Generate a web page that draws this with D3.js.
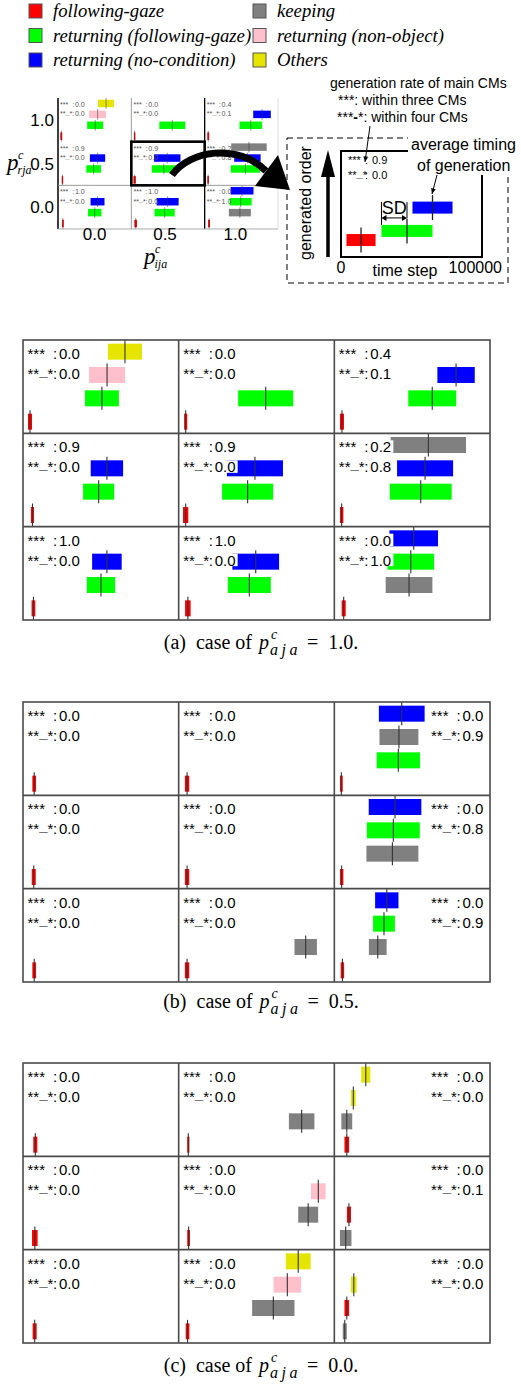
<!DOCTYPE html>
<html>
<head>
<meta charset="utf-8">
<script src="https://cdn.jsdelivr.net/npm/d3@7"></script>
<style>
  body { margin: 0; background: #fff; }
  svg { display: block; }
</style>
</head>
<body>
<svg id="fig" width="521" height="1384"></svg>
<script>
// ---- data ----
const catKeys = ['fg', 'rfg', 'rnc', 'keep', 'rno', 'oth'];
const catLabels = ['following-gaze', 'returning (following-gaze)', 'returning (no-condition)',
                   'keeping', 'returning (non-object)', 'Others'];
const rowLabels = ['1.0', '0.5', '0.0'];   // p_rja, top to bottom
const colLabels = ['0.0', '0.5', '1.0'];   // p_ija, left to right
const orderLevels = [4, 3, 2, 1];

// bars: [row, col, category, generated order, mean time step, SD]
const barsA = [
  [0, 0, 'fg', 1, 4500, 1300], [0, 0, 'rfg', 2, 50700, 10900], [0, 0, 'rno', 3, 54000, 11600], [0, 0, 'oth', 4, 65500, 10900],
  [0, 1, 'fg', 1, 4500, 1000], [0, 1, 'rfg', 2, 55900, 17700],
  [0, 2, 'fg', 1, 4900, 1300], [0, 2, 'rfg', 2, 62900, 15400], [0, 2, 'rnc', 3, 78200, 12000],
  [1, 0, 'fg', 1, 6100, 1000], [1, 0, 'rfg', 2, 48600, 10000], [1, 0, 'rnc', 3, 53900, 10400],
  [1, 1, 'fg', 1, 4500, 1700], [1, 1, 'rfg', 2, 44300, 16400], [1, 1, 'rnc', 3, 49000, 18000],
  [1, 2, 'fg', 1, 4700, 1100], [1, 2, 'rfg', 2, 55500, 19900], [1, 2, 'rnc', 3, 58300, 18000], [1, 2, 'keep', 4, 60400, 24200],
  [2, 0, 'fg', 1, 6700, 1200], [2, 0, 'rfg', 2, 50100, 9100], [2, 0, 'rnc', 3, 53900, 9500],
  [2, 1, 'fg', 1, 5900, 1800], [2, 1, 'rfg', 2, 45400, 13800], [2, 1, 'rnc', 3, 49500, 15000],
  [2, 2, 'fg', 1, 6000, 1300], [2, 2, 'keep', 2, 48000, 15000], [2, 2, 'rfg', 3, 49100, 15000], [2, 2, 'rnc', 4, 51000, 15600]
];
const rate3A = [[0.0, 0.0, 0.4], [0.9, 0.9, 0.2], [1.0, 1.0, 0.0]];
const rate4A = [[0.0, 0.0, 0.1], [0.0, 0.0, 0.8], [0.0, 0.0, 1.0]];

const barsB = [
  [0, 0, 'fg', 1, 7200, 1200],
  [0, 1, 'fg', 1, 5400, 1400],
  [0, 2, 'fg', 1, 4500, 900], [0, 2, 'rfg', 2, 41100, 13900], [0, 2, 'keep', 3, 41500, 12500], [0, 2, 'rnc', 4, 43300, 14700],
  [1, 0, 'fg', 1, 6900, 1300],
  [1, 1, 'fg', 1, 5400, 1400],
  [1, 2, 'fg', 1, 4700, 1100], [1, 2, 'keep', 2, 37300, 16700], [1, 2, 'rfg', 3, 37900, 17000], [1, 2, 'rnc', 4, 39000, 16900],
  [2, 0, 'fg', 1, 7200, 1200],
  [2, 1, 'fg', 1, 5400, 1400], [2, 1, 'keep', 2, 81600, 7200],
  [2, 2, 'fg', 1, 5200, 1100], [2, 2, 'keep', 2, 27900, 5700], [2, 2, 'rfg', 3, 31900, 7000], [2, 2, 'rnc', 4, 33700, 7500]
];
const rate3B = [[0.0, 0.0, 0.0], [0.0, 0.0, 0.0], [0.0, 0.0, 0.0]];
const rate4B = [[0.0, 0.0, 0.9], [0.0, 0.0, 0.8], [0.0, 0.0, 0.9]];

const barsC = [
  [0, 0, 'fg', 1, 7900, 1300],
  [0, 1, 'fg', 1, 6200, 700], [0, 1, 'keep', 2, 79000, 8200],
  [0, 2, 'fg', 1, 8000, 1500], [0, 2, 'keep', 2, 8000, 3500], [0, 2, 'oth', 3, 12200, 1500], [0, 2, 'oth', 4, 20200, 2900],
  [1, 0, 'fg', 1, 7600, 1800],
  [1, 1, 'fg', 1, 6400, 900], [1, 1, 'keep', 2, 83200, 6400], [1, 1, 'rno', 3, 89700, 4700],
  [1, 2, 'keep', 1, 7300, 3700], [1, 2, 'fg', 2, 9400, 1300],
  [2, 0, 'fg', 1, 7500, 1300],
  [2, 1, 'fg', 1, 5700, 1200], [2, 1, 'keep', 2, 60800, 13600], [2, 1, 'rno', 3, 69800, 8900], [2, 1, 'oth', 4, 76800, 8000],
  [2, 2, 'keep', 1, 6700, 1300], [2, 2, 'fg', 2, 8000, 1500], [2, 2, 'oth', 3, 12500, 1800]
];
const rate3C = [[0.0, 0.0, 0.0], [0.0, 0.0, 0.0], [0.0, 0.0, 0.0]];
const rate4C = [[0.0, 0.0, 0.0], [0.0, 0.0, 0.1], [0.0, 0.0, 0.0]];

// explanatory sketch: [category, generated order, mean, SD]
const exampleBars = [['fg', 0.8, 14200, 10300], ['rfg', 1.23, 46800, 18100], ['rnc', 2.33, 64900, 14200]];
const exampleRates = [0.9, 0.0];

const captions = [['(a)', '1.0.'], ['(b)', '0.5.'], ['(c)', '0.0.']];

// ---- styles ----
const catColor = { fg: '#ff0000', rfg: '#00ff00', rnc: '#0000ff', keep: '#808080', rno: '#ffc0cb', oth: '#e5e500' };
const sans = "'Liberation Sans', Arial, sans-serif";
const serif = "'Liberation Serif', 'Times New Roman', serif";
const frameColor = '#4a4a4a';
const tickColor = '#333';

const svg = d3.select('#fig');

// ---- legend ----
const legendRow = d3.scaleLinear().domain([0, 2]).range([4, 53]);
const legendCol = d3.scaleOrdinal().domain([0, 1]).range([29, 253]);
const legend = svg.append('g');
catKeys.forEach((k, i) => {
  const col = Math.floor(i / 3), row = i % 3;
  const x = legendCol(col), y = legendRow(row);
  legend.append('rect')
    .attr('x', x).attr('y', y).attr('width', 13).attr('height', 14)
    .attr('fill', catColor[k]).attr('stroke', '#555').attr('stroke-width', 1);
  legend.append('text')
    .attr('x', x + 24).attr('y', y + 13)
    .attr('font-family', serif).attr('font-style', 'italic').attr('font-size', 18.7)
    .text(catLabels[i]);
});

// ---- grid panels ----
const panelW = 467, panelH = 280;
const colScale = d3.scaleBand().domain(d3.range(3)).range([0, panelW]);
const rowScale = d3.scaleBand().domain(d3.range(3)).range([0, panelH]);
const tScale = d3.scaleLinear().domain([0, 100000]).range([0, colScale.bandwidth()]);
const orderScale = d3.scaleBand().domain(orderLevels).range([0, rowScale.bandwidth()]);
const barH = 16, tickH = 23;

function rateLine(g, x0, y, label, value, withBg, fill) {
  const t = g.append('text').attr('x', x0).attr('y', y)
    .attr('font-family', sans).attr('font-size', 15).attr('fill', fill);
  if (label === '***') {
    t.text('***');
  } else {
    t.append('tspan').text('**');
    t.append('tspan').attr('dy', -3).attr('font-weight', 'bold').text('_');
    t.append('tspan').attr('dy', 3).text('*');
  }
  g.append('text').attr('x', x0 + 25.5).attr('y', y)
    .attr('font-family', sans).attr('font-size', 15).attr('fill', fill).text(':');
  if (withBg) {
    g.append('rect').attr('x', x0 + 31.5).attr('y', y - 12).attr('width', 23).attr('height', 12.5).attr('fill', '#fff');
  }
  g.append('text').attr('x', x0 + 31.5).attr('y', y)
    .attr('font-family', sans).attr('font-size', 15).attr('fill', fill).text(value.toFixed(1));
}

function drawPanel(g, bars, r3, r4, rightTexts, thumb) {
  const barG = g.append('g');
  bars.forEach(([r, c, cat, ord, mean, sd]) => {
    const x0 = colScale(c), y0 = rowScale(r);
    const yc = y0 + orderScale(ord) + orderScale.bandwidth() / 2;
    barG.append('rect')
      .attr('x', x0 + tScale(mean - sd)).attr('y', yc - barH / 2)
      .attr('width', tScale(2 * sd)).attr('height', barH)
      .attr('fill', catColor[cat]);
    barG.append('line')
      .attr('x1', x0 + tScale(mean)).attr('x2', x0 + tScale(mean))
      .attr('y1', yc - tickH / 2).attr('y2', yc + tickH / 2)
      .attr('stroke', tickColor).attr('stroke-width', 1.1);
  });

  const textG = g.append('g');
  const fill = thumb ? '#555' : '#000';
  d3.range(3).forEach(r => d3.range(3).forEach(c => {
    const left = colScale(c), top = rowScale(r);
    const x0 = (rightTexts && c === 2) ? left + colScale.bandwidth() - 59 : left + 4.5;
    rateLine(textG, x0, top + 19, '***', r3[r][c], !thumb, fill);
    rateLine(textG, x0, top + 39, '**_*', r4[r][c], !thumb, fill);
  }));

  const frame = g.append('g').attr('fill', 'none');
  if (!thumb) {
    frame.append('rect').attr('x', 0).attr('y', 0).attr('width', panelW).attr('height', panelH)
      .attr('stroke', frameColor).attr('stroke-width', 1.6);
    [1, 2].forEach(i => {
      frame.append('line').attr('x1', colScale(i)).attr('x2', colScale(i)).attr('y1', 0).attr('y2', panelH)
        .attr('stroke', frameColor).attr('stroke-width', 1.6);
      frame.append('line').attr('y1', rowScale(i)).attr('y2', rowScale(i)).attr('x1', 0).attr('x2', panelW)
        .attr('stroke', frameColor).attr('stroke-width', 1.6);
    });
  } else {
    const ln = (x1, y1, x2, y2, col, w) => frame.append('line')
      .attr('x1', x1).attr('y1', y1).attr('x2', x2).attr('y2', y2)
      .attr('stroke', col).attr('stroke-width', w).attr('vector-effect', 'non-scaling-stroke');
    ln(0, 0, 0, panelH, '#000', 1.5);
    ln(colScale(1), 0, colScale(1), panelH, '#999', 1);
    ln(colScale(2), 0, colScale(2), panelH, '#000', 1.3);
    ln(0, rowScale(2), panelW, rowScale(2), '#999', 1);
    ln(0, panelH, panelW, panelH, '#aaa', 1);
    ln(panelW, 0, panelW, panelH, '#ddd', 1);
  }
}

const panelX = 23;
const panelTops = [340, 702, 1063];
const panelData = [[barsA, rate3A, rate4A, false], [barsB, rate3B, rate4B, true], [barsC, rate3C, rate4C, true]];

panelData.forEach(([bars, r3, r4, right], i) => {
  const g = svg.append('g').attr('transform', `translate(${panelX},${panelTops[i]})`);
  drawPanel(g, bars, r3, r4, right, false);
});

// captions
function caption(idx, y) {
  const g = svg.append('g');
  const fs = 20;
  const t1 = g.append('text').attr('x', 0).attr('y', y).attr('font-family', serif).attr('font-size', fs)
    .attr('xml:space', 'preserve').text(captions[idx][0] + '  case of ');
  let x = t1.node().getComputedTextLength() + 2;
  const p = g.append('text').attr('x', x).attr('y', y).attr('font-family', serif).attr('font-style', 'italic')
    .attr('font-size', fs).text('p');
  x += p.node().getComputedTextLength() + 1;
  g.append('text').attr('x', x + 1).attr('y', y - 10).attr('font-family', serif).attr('font-style', 'italic')
    .attr('font-size', 14).text('c');
  const sub = g.append('text').attr('x', x).attr('y', y + 6).attr('font-family', serif).attr('font-style', 'italic')
    .attr('font-size', 16).attr('letter-spacing', 3.5).text('aja');
  x += sub.node().getComputedTextLength() + 6;
  const eq = g.append('text').attr('x', x).attr('y', y).attr('font-family', serif).attr('font-size', fs)
    .attr('xml:space', 'preserve').text('=  ' + captions[idx][1]);
  x += eq.node().getComputedTextLength();
  g.attr('transform', `translate(${261 - x / 2},0)`);
}
caption(0, 649);
caption(1, 1008);
caption(2, 1372);

// ---- thumbnail of panel (a) ----
const thumbX = 58, thumbY = 98, thumbSx = 220 / panelW, thumbSy = 131 / panelH;
const thumb = svg.append('g').attr('transform', `translate(${thumbX},${thumbY}) scale(${thumbSx},${thumbSy})`);
drawPanel(thumb, barsA, rate3A, rate4A, false, true);

rowLabels.forEach((lab, r) => {
  svg.append('text')
    .attr('x', thumbX - 4)
    .attr('y', thumbY + (rowScale(r) + rowScale.bandwidth() / 2) * thumbSy + 6)
    .attr('text-anchor', 'end').attr('font-family', sans).attr('font-size', 17).text(lab);
});
colLabels.forEach((lab, c) => {
  svg.append('text')
    .attr('x', thumbX + (colScale(c) + colScale.bandwidth() / 2) * thumbSx - c * 3)
    .attr('y', 240)
    .attr('text-anchor', 'middle').attr('font-family', sans).attr('font-size', 17).text(lab);
});

function mathLabel(x, y, sub) {
  const g = svg.append('g');
  g.append('text').attr('x', x).attr('y', y).attr('font-family', serif).attr('font-style', 'italic')
    .attr('font-size', 23).text('p');
  g.append('text').attr('x', x + 11).attr('y', y - 11).attr('font-family', serif).attr('font-style', 'italic')
    .attr('font-size', 12).text('c');
  g.append('text').attr('x', x + 10.5).attr('y', y + 4).attr('font-family', serif).attr('font-style', 'italic')
    .attr('font-size', 12).text(sub);
}
mathLabel(144, 264, 'ija');
mathLabel(7, 170, 'rja');

// highlight box on the middle cell
svg.append('rect')
  .attr('x', thumbX + colScale(1) * thumbSx).attr('y', thumbY + rowScale(1) * thumbSy)
  .attr('width', colScale.bandwidth() * thumbSx).attr('height', rowScale.bandwidth() * thumbSy)
  .attr('fill', 'none').attr('stroke', '#000').attr('stroke-width', 2.6);

// big curved arrow
svg.append('path')
  .attr('d', 'M172,175 C190,150 238,143 266,171')
  .attr('fill', 'none').attr('stroke', '#000').attr('stroke-width', 7);
svg.append('path')
  .attr('d', 'M255,186 L278,155 L290,190 Z').attr('fill', '#000');

// ---- explanatory sketch ----
const ex = svg.append('g');
const exT = d3.scaleLinear().domain([0, 100000]).range([341, 482]);
const exY = d3.scaleLinear().domain([0, 5]).range([257, 151]);

ex.append('text').attr('x', 330).attr('y', 88).attr('font-family', sans).attr('font-size', 14)
  .text('generation rate of main CMs');
ex.append('text').attr('x', 338).attr('y', 105).attr('font-family', sans).attr('font-size', 14)
  .text('***: within three CMs');
const t4 = ex.append('text').attr('x', 337).attr('y', 122).attr('font-family', sans).attr('font-size', 14);
t4.append('tspan').text('***');
t4.append('tspan').attr('font-weight', 'bold').text('-');
t4.append('tspan').text('*: within four CMs');

ex.append('rect').attr('x', 287).attr('y', 138).attr('width', 221).attr('height', 145)
  .attr('fill', 'none').attr('stroke', '#000').attr('stroke-width', 1).attr('stroke-dasharray', '6,4');

// inner axes box
ex.append('path')
  .attr('d', `M${exT(0)},${exY(5)} H${exT(100000)} V${exY(0)} H${exT(0)} Z`)
  .attr('fill', 'none').attr('stroke', '#000').attr('stroke-width', 2);

// label backgrounds hide part of the frames
ex.append('rect').attr('x', 408).attr('y', 136).attr('width', 113).attr('height', 39).attr('fill', '#fff');
ex.append('text').attr('x', 411).attr('y', 150).attr('font-family', sans).attr('font-size', 16).text('average timing');
ex.append('text').attr('x', 417).attr('y', 171).attr('font-family', sans).attr('font-size', 16).text('of generation');

// generated order arrow
ex.append('line').attr('x1', 328).attr('x2', 328).attr('y1', 257).attr('y2', 172)
  .attr('stroke', '#000').attr('stroke-width', 3.5);
ex.append('path').attr('d', 'M321,177 L335,177 L328,150 Z').attr('fill', '#000');
ex.append('text').attr('transform', 'translate(311,203) rotate(-90)')
  .attr('text-anchor', 'middle').attr('font-family', sans).attr('font-size', 16).text('generated order');

// bars
exampleBars.forEach(([cat, ord, mean, sd]) => {
  const yc = exY(ord);
  ex.append('rect').attr('x', exT(mean - sd)).attr('width', exT(mean + sd) - exT(mean - sd))
    .attr('y', yc - 6).attr('height', 12).attr('fill', catColor[cat]);
  ex.append('line').attr('x1', exT(mean)).attr('x2', exT(mean)).attr('y1', yc - 12.5).attr('y2', yc + 12.5)
    .attr('stroke', '#222').attr('stroke-width', 1.3);
});

// rate text inside sketch
const exr1 = ex.append('text').attr('x', 348).attr('y', 164).attr('font-family', sans).attr('font-size', 11);
exr1.text('***');
ex.append('text').attr('x', 365).attr('y', 164).attr('font-family', sans).attr('font-size', 11).text(':');
ex.append('text').attr('x', 372).attr('y', 164).attr('font-family', sans).attr('font-size', 11).text(exampleRates[0].toFixed(1));
const exr2 = ex.append('text').attr('x', 348).attr('y', 179).attr('font-family', sans).attr('font-size', 11);
exr2.append('tspan').text('**');
exr2.append('tspan').attr('dy', -2).attr('font-weight', 'bold').text('_');
exr2.append('tspan').attr('dy', 2).text('*');
ex.append('text').attr('x', 365).attr('y', 179).attr('font-family', sans).attr('font-size', 11).text(':');
ex.append('text').attr('x', 372).attr('y', 179).attr('font-family', sans).attr('font-size', 11).text(exampleRates[1].toFixed(1));

// thin pointer arrows
function pointer(x1, y1, x2, y2) {
  const a = Math.atan2(y2 - y1, x2 - x1), L = 6, w = 0.4;
  ex.append('line').attr('x1', x1).attr('y1', y1).attr('x2', x2).attr('y2', y2)
    .attr('stroke', '#000').attr('stroke-width', 1);
  ex.append('path').attr('d', `M${x2},${y2} L${x2 - L * Math.cos(a - w)},${y2 - L * Math.sin(a - w)} ` +
    `L${x2 - L * Math.cos(a + w)},${y2 - L * Math.sin(a + w)} Z`).attr('fill', '#000');
}
pointer(370, 126, 365, 162);
pointer(437, 175, 432, 194);

// SD marker
const sdBar = exampleBars[1];
const sdL = exT(sdBar[2] - sdBar[3]), sdC = exT(sdBar[2]), sdY = exY(sdBar[1]) - 13;
ex.append('line').attr('x1', sdL).attr('x2', sdL).attr('y1', sdY - 16).attr('y2', exY(sdBar[1]) - 6)
  .attr('stroke', '#000').attr('stroke-width', 1);
ex.append('line').attr('x1', sdC).attr('x2', sdC).attr('y1', sdY - 16).attr('y2', sdY)
  .attr('stroke', '#000').attr('stroke-width', 1);
ex.append('line').attr('x1', sdL + 4).attr('x2', sdC - 4).attr('y1', sdY).attr('y2', sdY)
  .attr('stroke', '#000').attr('stroke-width', 1);
ex.append('path').attr('d', `M${sdL},${sdY} l5,-3 l0,6 Z M${sdC},${sdY} l-5,-3 l0,6 Z`).attr('fill', '#000');
ex.append('text').attr('x', (sdL + sdC) / 2).attr('y', sdY - 4).attr('text-anchor', 'middle')
  .attr('font-family', sans).attr('font-size', 18).text('SD');

// axis labels of sketch
ex.append('text').attr('x', exT(0)).attr('y', 273).attr('text-anchor', 'middle')
  .attr('font-family', sans).attr('font-size', 16).text('0');
ex.append('text').attr('x', 502).attr('y', 273).attr('text-anchor', 'end')
  .attr('font-family', sans).attr('font-size', 16).text('100000');
ex.append('text').attr('x', 405).attr('y', 276).attr('text-anchor', 'middle')
  .attr('font-family', sans).attr('font-size', 16).text('time step');
</script>
</body>
</html>
